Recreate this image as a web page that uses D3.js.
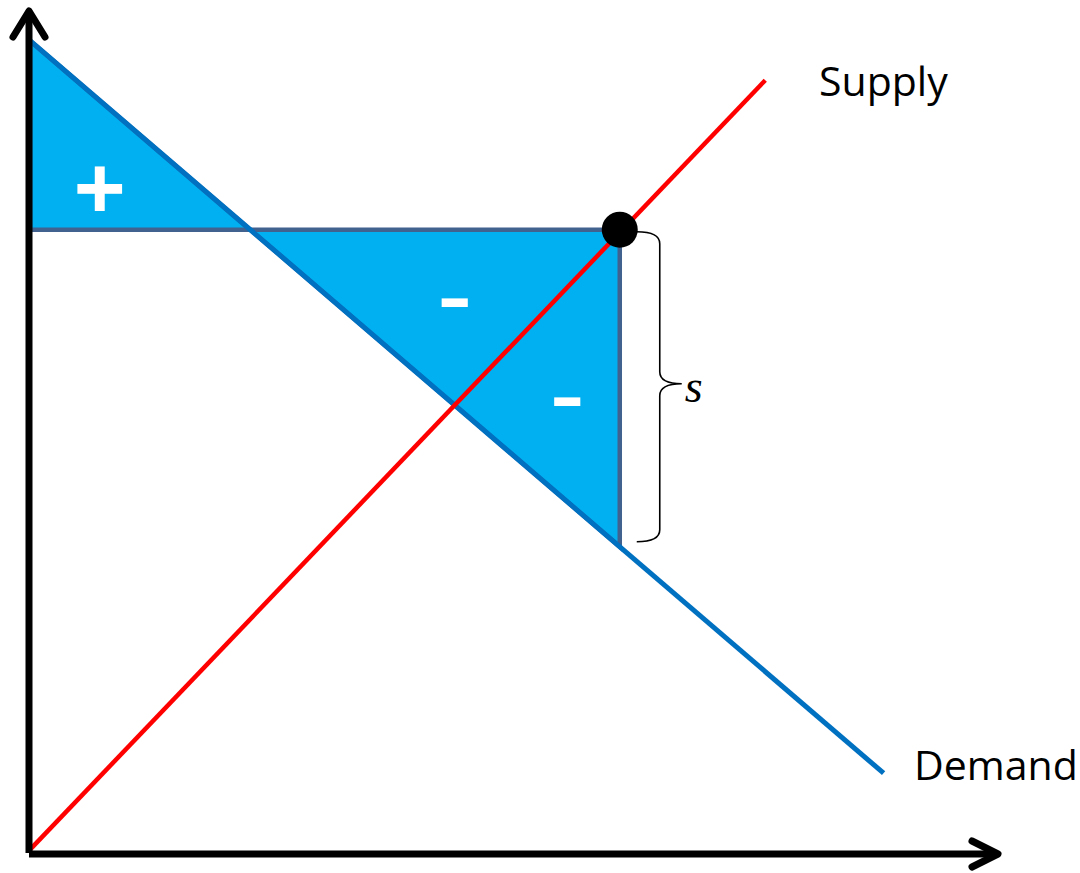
<!DOCTYPE html>
<html>
<head>
<meta charset="utf-8">
<script src="https://cdn.jsdelivr.net/npm/d3@7"></script>
<style>
  html, body { margin: 0; padding: 0; background: #fff; }
  svg { display: block; }
</style>
</head>
<body>
<div id="chart"></div>
<script>
// curves as end points (quantity, price)
var demandQ = [0, 8.80];
var demandP = [9.67, 0.95];
var supplyQ = [0, 7.58];
var supplyP = [0.04, 9.20];
// price floor and quantity supplied at that price
var floorPrice = 7.42;
var floorQty = 6.08;
var labels = ["Supply", "Demand"];
var areaSigns = ["+", "-", "-"];
var braceLabel = "s";

var width = 1080, height = 873;
var svg = d3.select("#chart").append("svg")
    .attr("width", width)
    .attr("height", height);

var x = d3.scaleLinear().domain([0, 10]).range([30, 1000]);
var y = d3.scaleLinear().domain([0, 10]).range([853, 13]);

// demand price at a quantity, and quantity at a price
function demandAt(q) {
  return demandP[0] + (demandP[1] - demandP[0]) * (q - demandQ[0]) / (demandQ[1] - demandQ[0]);
}
function demandQtyAt(p) {
  return demandQ[0] + (demandQ[1] - demandQ[0]) * (p - demandP[0]) / (demandP[1] - demandP[0]);
}

var line = d3.line()
    .x(function (d) { return x(d[0]); })
    .y(function (d) { return y(d[1]); });

var qCross = demandQtyAt(floorPrice);
var gainArea = [[0, demandP[0]], [0, floorPrice], [qCross, floorPrice]];
var lossArea = [[qCross, floorPrice], [floorQty, floorPrice], [floorQty, demandAt(floorQty)]];

svg.selectAll("path.area")
    .data([gainArea, lossArea])
    .enter()
    .append("path")
    .attr("class", "area")
    .attr("d", function (d) { return line(d) + "Z"; })
    .attr("fill", "#00B0F0")
    .attr("stroke", "#41618F")
    .attr("stroke-width", 4.5)
    .attr("stroke-linejoin", "miter");

// demand
svg.append("path")
    .attr("d", line(d3.zip(demandQ, demandP)))
    .attr("fill", "none")
    .attr("stroke", "#0070C0")
    .attr("stroke-width", 5);

// supply
svg.append("path")
    .attr("d", line(d3.zip(supplyQ, supplyP)))
    .attr("fill", "none")
    .attr("stroke", "#FF0000")
    .attr("stroke-width", 4.5);

// axes with arrow heads
var axes = svg.append("g")
    .attr("fill", "none")
    .attr("stroke", "#000")
    .attr("stroke-width", 7)
    .attr("stroke-linecap", "round")
    .attr("stroke-linejoin", "round");
axes.append("path")
    .attr("d", "M" + (x(0) - 1) + "," + y(0) + "V11")
    .attr("stroke-linecap", "butt");
axes.append("path")
    .attr("d", "M" + (x(0) - 17) + ",37L" + (x(0) - 1) + ",11L" + (x(0) + 15) + ",37");
axes.append("path")
    .attr("d", "M" + (x(0) - 1) + "," + (y(0) + 1) + "H998")
    .attr("stroke-linecap", "butt");
axes.append("path")
    .attr("d", "M972,841L998," + (y(0) + 1) + "L972,867");

// equilibrium under the floor: point on supply
svg.append("circle")
    .attr("cx", x(floorQty))
    .attr("cy", y(floorPrice))
    .attr("r", 18)
    .attr("fill", "#000");

// brace
var bx = x(floorQty) + 17,
    braceTop = y(floorPrice) + 2,
    braceBot = y(demandAt(floorQty)) - 5;
var mid = (braceTop + braceBot) / 2 - 3, sp = bx + 23;
svg.append("path")
    .attr("d", "M" + bx + "," + braceTop + "Q" + sp + "," + braceTop + " " + sp + "," + (braceTop + 12) +
      "L" + sp + "," + (mid - 12) + "Q" + sp + "," + mid + " " + (sp + 22) + "," + mid +
      "Q" + sp + "," + mid + " " + sp + "," + (mid + 12) +
      "L" + sp + "," + (braceBot - 12) + "Q" + sp + "," + braceBot + " " + bx + "," + braceBot)
    .attr("fill", "none")
    .attr("stroke", "#000")
    .attr("stroke-width", 1.6);

svg.append("text")
    .attr("x", sp + 25)
    .attr("y", mid + 18)
    .attr("font-family", "'Liberation Serif', 'DejaVu Serif', serif")
    .attr("font-style", "italic")
    .attr("font-size", 46)
    .text(braceLabel);

// curve labels
svg.append("text")
    .attr("x", 819)
    .attr("y", 96)
    .attr("font-family", "'Open Sans', sans-serif")
    .attr("font-size", 41)
    .attr("fill", "#000")
    .text(labels[0]);
svg.append("text")
    .attr("x", 914)
    .attr("y", 780)
    .attr("font-family", "'Open Sans', sans-serif")
    .attr("font-size", 41)
    .attr("fill", "#000")
    .text(labels[1]);

// signs in the areas
var signPos = [[0.72, 7.95], [4.38, 6.64], [5.54, 5.47]];
svg.selectAll("text.sign")
    .data(areaSigns)
    .enter()
    .append("text")
    .attr("class", "sign")
    .attr("x", function (d, i) { return x(signPos[i][0]); })
    .attr("y", function (d, i) { return y(signPos[i][1]); })
    .attr("text-anchor", "middle")
    .attr("dominant-baseline", "central")
    .attr("font-family", "'Open Sans', sans-serif")
    .attr("font-weight", "bold")
    .attr("font-size", function (d) { return d === "+" ? 92 : 70; })
    .attr("textLength", function (d) { return d === "+" ? null : 32; })
    .attr("lengthAdjust", "spacingAndGlyphs")
    .attr("fill", "#fff")
    .text(function (d) { return d; });
</script>
</body>
</html>
